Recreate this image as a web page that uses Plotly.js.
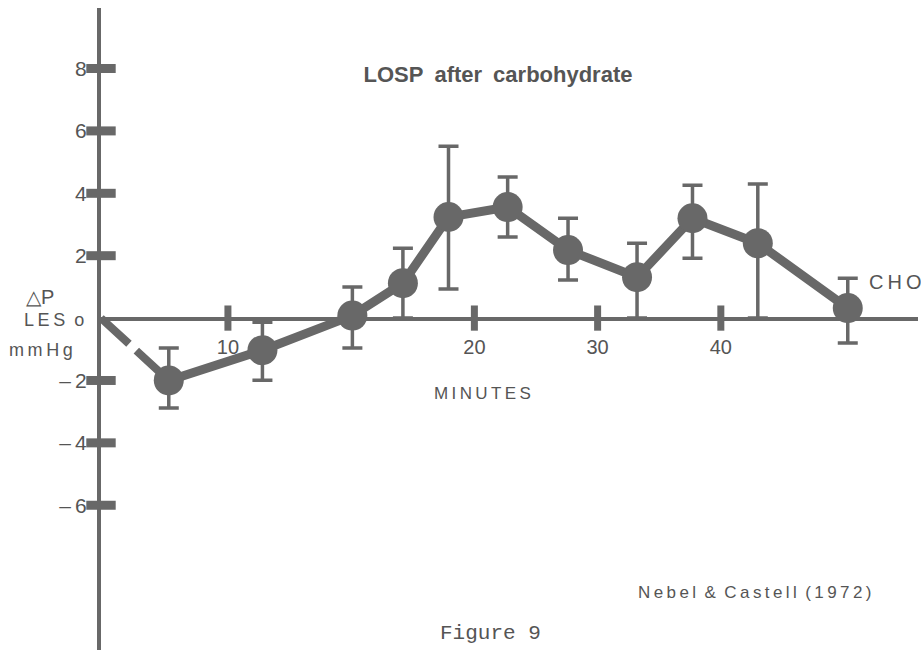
<!DOCTYPE html>
<html>
<head>
<meta charset="utf-8">
<script src="https://cdn.plot.ly/plotly-3.0.1.min.js"></script>
<style>html,body{margin:0;padding:0;background:#fff;}#chart{width:921px;height:653px;}</style>
</head>
<body>
<div id="chart"></div>
<script>
// ---- data ----
const minutes   = [-4.8, 2.8, 10.1, 14.2, 17.9, 22.7, 27.6, 33.2, 37.7, 43.0, 50.3];
const deltaP    = [-2.0, -1.03, 0.08, 1.12, 3.24, 3.56, 2.18, 1.31, 3.2, 2.4, 0.32];
const errPlus   = [1.04, 0.9, 0.92, 1.12, 2.27, 0.96, 1.02, 1.09, 1.06, 1.9, 0.96];
const errMinus  = [0.88, 0.96, 1.04, 1.12, 2.31, 0.96, 0.96, 1.31, 1.28, 2.4, 1.12];
const xTickVals = [0, 20, 30, 40];
const xTickText = ['10', '20', '30', '40'];
const yTickVals = [8, 6, 4, 2, -2, -4, -6];
const yTickText = ['8', '6', '4', '2', '\u2013\u20092', '\u2013\u20094', '\u2013\u20096'];

// ---- layout geometry ----
const xRange = [-10.3, 56];
const yRange = [-10.64, 9.94];
const M = {l: 101, r: 3, t: 8, b: 3};
const W = 921, H = 653;
const pw = W - M.l - M.r, ph = H - M.t - M.b;
const px = x => (x - M.l) / pw;
const py = y => (H - M.b - y) / ph;
const grey = '#686868';
const textGrey = '#555';
const sans = 'Liberation Sans, Arial, sans-serif';
const spaced = (s, sep) => s.split('').join(sep);

const traces = [
  { // dashed lead-in from origin
    x: [xRange[0], minutes[0]], y: [0, deltaP[0]],
    mode: 'lines', line: {color: grey, width: 8, dash: '38px,10px,60px'},
    hoverinfo: 'skip', cliponaxis: false
  },
  {
    x: minutes, y: deltaP, mode: 'lines+markers',
    line: {color: grey, width: 9},
    marker: {color: grey, size: 30},
    error_y: {type: 'data', symmetric: false, array: errPlus, arrayminus: errMinus,
              color: grey, thickness: 3.5, width: 10},
    cliponaxis: false
  },
  { // y tick blobs
    x: yTickVals.map(() => xRange[0]), y: yTickVals, mode: 'markers',
    marker: {symbol: 'line-ew', size: 21, line: {color: grey, width: 9}},
    cliponaxis: false, hoverinfo: 'skip'
  },
  { // x tick blobs
    x: xTickVals, y: xTickVals.map(() => 0), mode: 'markers',
    marker: {symbol: 'line-ns', size: 18, line: {color: grey, width: 7}},
    cliponaxis: false, hoverinfo: 'skip'
  }
];

const ann = (text, x, y, size, extra) => Object.assign({
  text, xref: 'paper', yref: 'paper', x: px(x), y: py(y),
  xanchor: 'center', yanchor: 'middle', showarrow: false,
  font: {family: sans, size, color: textGrey}
}, extra || {});

const layout = {
  width: W, height: H, margin: M,
  paper_bgcolor: '#fff', plot_bgcolor: '#fff', showlegend: false,
  title: {
    text: '<b>LOSP\u2002after\u2002carbohydrate</b>', xref: 'container', yref: 'container',
    x: 498 / W, y: 1 - 74 / H, xanchor: 'center', yanchor: 'middle',
    font: {family: 'Liberation Sans Narrow, Arial Narrow, sans-serif', size: 22, color: textGrey}
  },
  xaxis: {
    range: xRange, anchor: 'free',
    position: (0 - yRange[0]) / (yRange[1] - yRange[0]),
    showline: true, linecolor: grey, linewidth: 3.5,
    showgrid: false, zeroline: false, ticks: '',
    tickvals: xTickVals, ticktext: xTickText, ticklabelstandoff: 9,
    tickfont: {family: sans, size: 20, color: textGrey}
  },
  yaxis: {
    range: yRange, showline: true, linecolor: grey, linewidth: 4,
    showgrid: false, zeroline: false, ticks: '',
    tickvals: yTickVals, ticktext: yTickText, ticklabelstandoff: 6,
    tickfont: {family: sans, size: 21, color: textGrey}
  },
  annotations: [
    ann('\u25B3P', 40, 297, 20),
    ann(spaced('LES', '\u2009') + '\u2002o', 54, 320, 18),
    ann(spaced('mmHg', '\u2009'), 41, 350, 18),
    ann(spaced('MINUTES', '\u2009'), 482, 393, 17),
    ann(spaced('CHO', '\u2009'), 895, 282, 20),
    ann(spaced('Nebel', '\u2009') + '\u2002&\u2002' + spaced('Castell', '\u2009') + '\u2002' + spaced('(1972)', '\u2009'), 754, 592, 17),
    ann('Figure 9', 490, 633, 21, {font: {family: 'Liberation Mono, Courier New, monospace', size: 21, color: textGrey}})
  ]
};

Plotly.newPlot('chart', traces, layout, {displayModeBar: false, staticPlot: true});
</script>
</body>
</html>
